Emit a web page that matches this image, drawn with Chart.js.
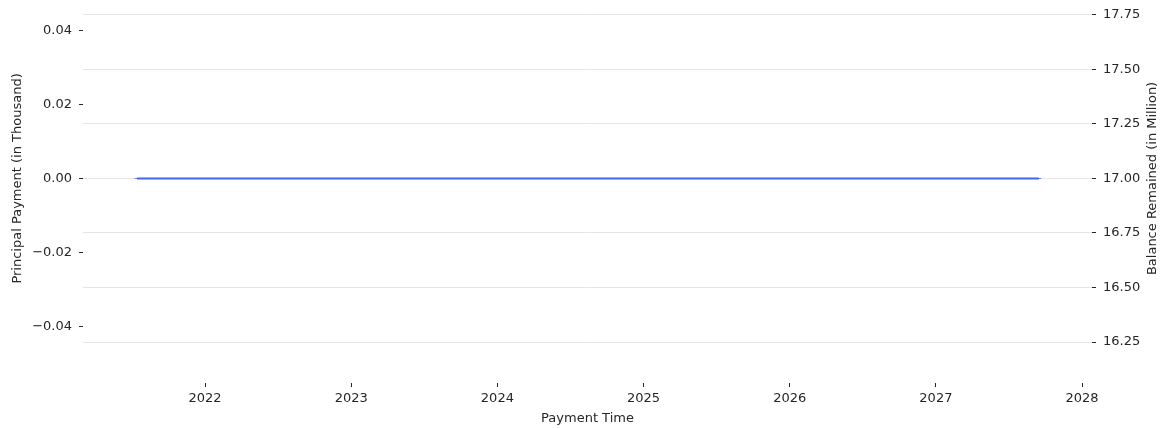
<!DOCTYPE html>
<html>
<head>
<meta charset="utf-8">
<script src="https://cdn.jsdelivr.net/npm/chart.js@4.4.1/dist/chart.umd.min.js"></script>
<style>
  html, body { margin: 0; padding: 0; background: #fff; }
  #wrap { width: 1163px; height: 428px; }
</style>
</head>
<body>
<div id="wrap"><canvas id="myChart" width="1163" height="428"></canvas></div>
<script>
// payment dates (monthly)
const paymentDates = [
  '2021-07-15', '2021-08-15', '2021-09-15', '2021-10-15', '2021-11-15', '2021-12-15',
  '2022-01-15', '2022-02-15', '2022-03-15', '2022-04-15', '2022-05-15', '2022-06-15',
  '2022-07-15', '2022-08-15', '2022-09-15', '2022-10-15', '2022-11-15', '2022-12-15',
  '2023-01-15', '2023-02-15', '2023-03-15', '2023-04-15', '2023-05-15', '2023-06-15',
  '2023-07-15', '2023-08-15', '2023-09-15', '2023-10-15', '2023-11-15', '2023-12-15',
  '2024-01-15', '2024-02-15', '2024-03-15', '2024-04-15', '2024-05-15', '2024-06-15',
  '2024-07-15', '2024-08-15', '2024-09-15', '2024-10-15', '2024-11-15', '2024-12-15',
  '2025-01-15', '2025-02-15', '2025-03-15', '2025-04-15', '2025-05-15', '2025-06-15',
  '2025-07-15', '2025-08-15', '2025-09-15', '2025-10-15', '2025-11-15', '2025-12-15',
  '2026-01-15', '2026-02-15', '2026-03-15', '2026-04-15', '2026-05-15', '2026-06-15',
  '2026-07-15', '2026-08-15', '2026-09-15', '2026-10-15', '2026-11-15', '2026-12-15',
  '2027-01-15', '2027-02-15', '2027-03-15', '2027-04-15', '2027-05-15', '2027-06-15',
  '2027-07-15', '2027-08-15', '2027-09-15'
];

// principal payment, in thousand
const principal = [
  0, 0, 0, 0, 0, 0,
  0, 0, 0, 0, 0, 0,
  0, 0, 0, 0, 0, 0,
  0, 0, 0, 0, 0, 0,
  0, 0, 0, 0, 0, 0,
  0, 0, 0, 0, 0, 0,
  0, 0, 0, 0, 0, 0,
  0, 0, 0, 0, 0, 0,
  0, 0, 0, 0, 0, 0,
  0, 0, 0, 0, 0, 0,
  0, 0, 0, 0, 0, 0,
  0, 0, 0, 0, 0, 0,
  0, 0, 0
];

// balance remained, in million
const balance = [
  17, 17, 17, 17, 17, 17,
  17, 17, 17, 17, 17, 17,
  17, 17, 17, 17, 17, 17,
  17, 17, 17, 17, 17, 17,
  17, 17, 17, 17, 17, 17,
  17, 17, 17, 17, 17, 17,
  17, 17, 17, 17, 17, 17,
  17, 17, 17, 17, 17, 17,
  17, 17, 17, 17, 17, 17,
  17, 17, 17, 17, 17, 17,
  17, 17, 17, 17, 17, 17,
  17, 17, 17, 17, 17, 17,
  17, 17, 17
];

const yearTicks = [2022, 2023, 2024, 2025, 2026, 2027, 2028];
const principalTicks = [-0.04, -0.02, 0, 0.02, 0.04];
const balanceTicks = [16.25, 16.5, 16.75, 17, 17.25, 17.5, 17.75];

function toYear(s) {
  var d = new Date(s + 'T00:00:00Z');
  var y = d.getUTCFullYear();
  var start = Date.UTC(y, 0, 1), end = Date.UTC(y + 1, 0, 1);
  return y + (d.getTime() - start) / (end - start);
}

var xs = paymentDates.map(toYear);
var font = { family: 'DejaVu Sans', size: 13 };
var dark = '#262626';

// y titles, both read bottom to top like matplotlib
var sideTitles = {
  id: 'sideTitles',
  afterDraw: function(chart) {
    var c = chart.ctx;
    var yMid = chart.scales.yR.getPixelForValue(17);
    c.save();
    c.fillStyle = dark;
    c.font = '13px "DejaVu Sans"';
    c.textAlign = 'center';
    c.textBaseline = 'middle';
    [[18, 'Principal Payment (in Thousand)'], [1153, 'Balance Remained (in Million)']].forEach(function(t) {
      c.save();
      c.translate(t[0], yMid);
      c.rotate(-Math.PI / 2);
      c.fillText(t[1], 0, 0);
      c.restore();
    });
    c.restore();
  }
};

const ctx = document.getElementById('myChart');

new Chart(ctx, {
  type: 'line',
  data: {
    datasets: [{
      type: 'bar',
      label: 'Principal Payment',
      data: xs.map(function(x, i) { return { x: x, y: principal[i] }; }),
      yAxisID: 'yL',
      backgroundColor: '#4169e1',
      borderWidth: 0,
      barThickness: 4,
      order: 2
    }, {
      label: 'Balance Remained',
      data: xs.map(function(x, i) { return { x: x, y: balance[i] }; }),
      yAxisID: 'yR',
      borderColor: '#4169e1',
      borderWidth: 2,
      pointRadius: 0,
      tension: 0,
      fill: false,
      order: 1
    }]
  },
  options: {
    responsive: false,
    animation: false,
    layout: { padding: 0 },
    plugins: {
      legend: { display: false },
      tooltip: { enabled: false }
    },
    scales: {
      x: {
        type: 'linear',
        offset: false,
        min: 2021.165,
        max: 2028.068,
        afterBuildTicks: function(s) { s.ticks = yearTicks.map(function(v) { return { value: v }; }); },
        afterFit: function(s) { s.height = 45; },
        ticks: { font: font, color: dark, padding: 4, maxRotation: 0, callback: function(v) { return String(v); } },
        grid: { offset: false, drawOnChartArea: false, drawTicks: true, tickLength: 4, tickColor: dark },
        border: { display: false },
        title: { display: true, text: 'Payment Time', font: font, color: dark, padding: { top: 0, bottom: 2 } }
      },
      yL: {
        position: 'left',
        min: -0.0554,
        max: 0.0443,
        afterBuildTicks: function(s) { s.ticks = principalTicks.map(function(v) { return { value: v }; }); },
        afterFit: function(s) { s.width = 83; },
        ticks: {
          font: font, color: dark, padding: 7,
          callback: function(v) { return (v < 0 ? '\u2212' : '') + Math.abs(v).toFixed(2); }
        },
        grid: { drawOnChartArea: false, drawTicks: true, tickLength: 4, tickColor: dark },
        border: { display: false }
      },
      yR: {
        position: 'right',
        min: 16.0625,
        max: 17.75,
        afterBuildTicks: function(s) { s.ticks = balanceTicks.map(function(v) { return { value: v }; }); },
        afterFit: function(s) { s.width = 71; },
        ticks: { font: font, color: dark, padding: 7, callback: function(v) { return v.toFixed(2); } },
        grid: { color: '#e5e5e5', lineWidth: 1, drawTicks: true, tickLength: 4, tickColor: dark },
        border: { display: false }
      }
    }
  },
  plugins: [sideTitles]
});
</script>
</body>
</html>
